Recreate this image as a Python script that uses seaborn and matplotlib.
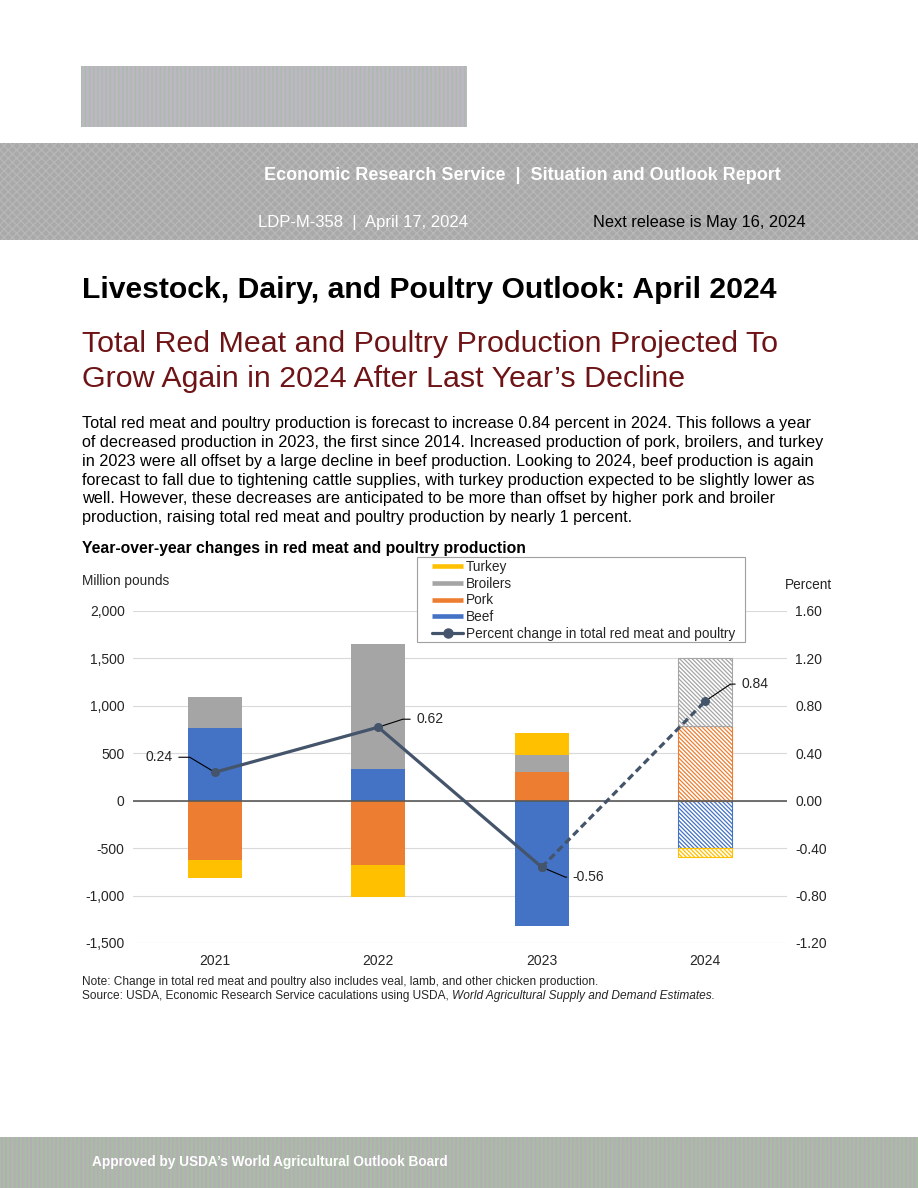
import numpy as np
import pandas as pd
import seaborn as sns
import matplotlib.pyplot as plt
from matplotlib.lines import Line2D
from matplotlib.patches import Rectangle
from matplotlib.ticker import FuncFormatter

# chart data (million pounds, year-over-year change)
years = ['2021', '2022', '2023', '2024']
beef = [771, 339, -1321, -498]
pork = [-625, -677, 307, 789]
broilers = [321, 1308, 180, 711]
turkey = [-186, -335, 232, -92]
pct_change = [0.24, 0.62, -0.56, 0.84]
is_forecast = [False, False, False, True]

series_names = ['Beef', 'Pork', 'Broilers', 'Turkey']
series_colors = ['#4472C4', '#ED7D31', '#A5A5A5', '#FFC000']
line_color = '#44546A'

body_lines = [
    "Total red meat and poultry production is forecast to increase 0.84 percent in 2024. This follows a year",
    "of decreased production in 2023, the first since 2014. Increased production of pork, broilers, and turkey",
    "in 2023 were all offset by a large decline in beef production. Looking to 2024, beef production is again",
    "forecast to fall due to tightening cattle supplies, with turkey production expected to be slightly lower as",
    "well. However, these decreases are anticipated to be more than offset by higher pork and broiler",
    "production, raising total red meat and poultry production by nearly 1 percent.",
]

sns.set_style("white")
plt.rcParams['font.family'] = ['Liberation Sans', 'DejaVu Sans']
plt.rcParams['hatch.linewidth'] = 0.9

W, H = 918, 1188
fig = plt.figure(figsize=(W / 100, H / 100), dpi=100)


def fx(px):
    return px / W


def fy(py):
    return 1 - py / H


# page decoration: logo block, header band, footer band
fig.patches.append(Rectangle((fx(81), fy(127)), fx(386), 61 / H, transform=fig.transFigure,
                             facecolor='#bdb6c4', edgecolor='#a9bda4', hatch='||||', lw=0))
fig.patches.append(Rectangle((0, fy(240)), 1, 97 / H, transform=fig.transFigure,
                             facecolor='#a9a9a9', edgecolor='#b8b8b8', hatch='xxxx', lw=0))
fig.patches.append(Rectangle((0, 0), 1, 51 / H, transform=fig.transFigure,
                             facecolor='#a9bca4', edgecolor='#bba6c0', hatch='||||', lw=0))

fig.text(fx(522), fy(175), "Economic Research Service  |  Situation and Outlook Report",
         ha='center', va='center', color='white', fontsize=13, fontweight='bold')
fig.text(fx(258), fy(222), "LDP-M-358  |  April 17, 2024", ha='left', va='center',
         color='white', fontsize=12)
fig.text(fx(806), fy(222), "Next release is May 16, 2024", ha='right', va='center',
         color='black', fontsize=11.8)
fig.text(fx(92), fy(1162), "Approved by USDA\u2019s World Agricultural Outlook Board", ha='left',
         va='center', color='white', fontsize=9.8, fontweight='bold')

# headings and body text
fig.text(fx(82), fy(290), "Livestock, Dairy, and Poultry Outlook: April 2024", ha='left',
         va='center', fontsize=21.7, fontweight='bold', color='black')
fig.text(fx(82), fy(344), "Total Red Meat and Poultry Production Projected To", ha='left',
         va='center', fontsize=21.9, color='#6E1416')
fig.text(fx(82), fy(379), "Grow Again in 2024 After Last Year\u2019s Decline", ha='left',
         va='center', fontsize=21.9, color='#6E1416')
for i, line in enumerate(body_lines):
    fig.text(fx(82), fy(424 + 18.7 * i), line, ha='left', va='center', fontsize=11.7, color='black')

fig.text(fx(82), fy(548), "Year-over-year changes in red meat and poultry production",
         ha='left', va='center', fontsize=11.3, fontweight='bold', color='black')
fig.text(fx(82), fy(581), "Million pounds", ha='left', va='center', fontsize=9.8)
fig.text(fx(785), fy(585), "Percent", ha='left', va='center', fontsize=9.8)

# chart
ax = fig.add_axes([fx(133), fy(943), fx(654), 332 / H])
ax2 = ax.twinx()

x = np.arange(len(years))
pos = np.zeros(len(years))
neg = np.zeros(len(years))
for name, vals, col in zip(series_names, [beef, pork, broilers, turkey], series_colors):
    vals = np.array(vals, dtype=float)
    bottom = np.where(vals >= 0, pos, neg)
    for i in range(len(years)):
        if is_forecast[i]:
            ax.bar(x[i], vals[i], bottom=bottom[i], width=0.33, color='white',
                   edgecolor=col, hatch='\\\\\\\\\\\\\\\\', linewidth=0.8, zorder=2)
        else:
            ax.bar(x[i], vals[i], bottom=bottom[i], width=0.33, color=col,
                   linewidth=0, zorder=2)
    pos += np.where(vals > 0, vals, 0)
    neg += np.where(vals < 0, vals, 0)

ax.set_xlim(-0.5, len(years) - 0.5)
ax.set_ylim(-1500, 2000)
ax.set_yticks(np.arange(-1500, 2001, 500))
ax.yaxis.set_major_formatter(FuncFormatter(lambda v, p: f"{v:,.0f}"))
ax.set_xticks(x)
ax.set_xticklabels(years)
ax.grid(axis='y', color='#d9d9d9', lw=0.8, zorder=0)
ax.axhline(0, color='#595959', lw=1.2, zorder=3)
ax.tick_params(axis='both', length=0, labelsize=10, pad=6)
ax.tick_params(axis='x', pad=8)

ax2.set_ylim(-1.2, 1.6)
ax2.set_yticks(np.arange(-1.2, 1.61, 0.4))
ax2.yaxis.set_major_formatter(FuncFormatter(lambda v, p: f"{v:.2f}"))
ax2.tick_params(axis='y', length=0, labelsize=10, pad=6)
for a in (ax, ax2):
    for s in a.spines.values():
        s.set_visible(False)

pct_df = pd.DataFrame({'x': x, 'pct': pct_change})
sns.lineplot(data=pct_df.iloc[:3], x='x', y='pct', ax=ax2, color=line_color, lw=2.3,
             marker='o', markersize=6.5, markeredgewidth=0, zorder=5)
sns.lineplot(data=pct_df.iloc[2:], x='x', y='pct', ax=ax2, color=line_color, lw=2.3,
             dashes=(2.2, 1.3), marker='o', markersize=6.5, markeredgewidth=0, zorder=5)
ax2.set_xlabel('')
ax2.set_ylabel('')
ax.set_xlabel('')

# data labels with leader lines (offsets in pixels)
label_offsets = [(-42, 15, 'right', 149), (38, 8, 'left', 18), (31, -10, 'left', -23), (36, 17, 'left', 34)]
for xi, val, (dx, dy, ha, angb) in zip(x, pct_change, label_offsets):
    ax2.annotate(f"{val:.2f}", xy=(xi, val), xytext=(dx, dy), textcoords='offset pixels',
                 ha=ha, va='center', fontsize=10,
                 arrowprops=dict(arrowstyle='-', color='black', lw=0.8, shrinkA=2, shrinkB=0,
                                 connectionstyle=f"angle,angleA=0,angleB={angb},rad=0"))

# legend (frame drawn separately to get the wide side padding)
ax2.set_zorder(ax.get_zorder() + 1)
ax2.add_patch(Rectangle((fx(417), fy(642)), fx(328), 85 / H, transform=fig.transFigure,
                        facecolor='white', edgecolor='#a0a0a0', lw=0.8, zorder=6, clip_on=False))
handles = [Line2D([], [], color=c, lw=3.3, solid_capstyle='butt') for c in series_colors[::-1]]
handles.append(Line2D([], [], color=line_color, lw=2.3, marker='o', markersize=6.5))
labels = series_names[::-1] + ['Percent change in total red meat and poultry']
leg = ax2.legend(handles, labels, loc='upper left', bbox_to_anchor=(fx(432), fy(560)),
                 bbox_transform=fig.transFigure, borderaxespad=0, fontsize=9.8,
                 handlelength=2.3, handletextpad=0.2, labelspacing=0.2, borderpad=0.0,
                 frameon=False)
leg.set_zorder(7)

# notes
fig.text(fx(82), fy(982), "Note: Change in total red meat and poultry also includes veal, lamb, and other chicken production.",
         ha='left', va='center', fontsize=8.6)
src = fig.text(fx(82), fy(996), "Source: USDA, Economic Research Service caculations using USDA, ",
               ha='left', va='center', fontsize=8.6)
fig.canvas.draw()
bb = src.get_window_extent(renderer=fig.canvas.get_renderer())
fig.text(bb.x1 / W, fy(996), "World Agricultural Supply and Demand Estimates.", ha='left',
         va='center', fontsize=8.6, style='italic')

fig.savefig('out.png', dpi=100)
